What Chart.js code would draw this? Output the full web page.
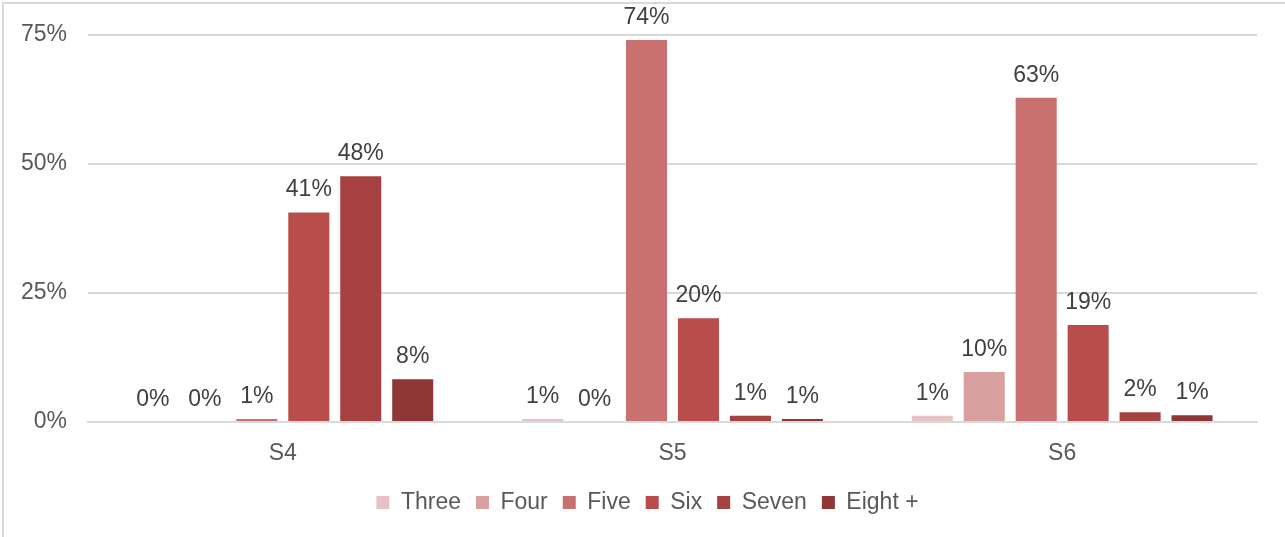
<!DOCTYPE html>
<html>
<head>
<meta charset="utf-8">
<script src="https://cdn.jsdelivr.net/npm/chart.js@4/dist/chart.umd.min.js"></script>
<style>
  html, body { margin: 0; padding: 0; background: #ffffff; }
  #wrap { width: 1285px; height: 537px; position: relative; }
</style>
</head>
<body>
<div id="wrap"><canvas id="chart" width="1285" height="537"></canvas></div>
<script>
// Share of pupils per group size, by year group
const categories = ['S4', 'S5', 'S6'];
const seriesNames = ['Three', 'Four', 'Five', 'Six', 'Seven', 'Eight +'];
const three = [0, 0.006, 0.012];
const four = [0, 0, 0.097];
const five = [0.006, 0.74, 0.628];
const six = [0.406, 0.201, 0.188];
const seven = [0.476, 0.012, 0.019];
const eightPlus = [0.083, 0.006, 0.013];
const yTicks = [0, 0.25, 0.5, 0.75];

const colors = ['#e6c2c3', '#d9a0a0', '#c87170', '#b84d4b', '#a54241', '#8f3636'];
const FONT = '"Liberation Sans", Arial, sans-serif';

const seriesValues = [three, four, five, six, seven, eightPlus];

const pct = v => Math.round(v * 100) + '%';

// value labels above each bar + the outer frame
const labelsPlugin = {
    id: 'barLabels',
    afterLayout(chart) {
        // centre the legend on the whole frame, not just the padded area
        const shift = (chart.width + 10 - chart.legend.right - chart.legend.left) / 2;
        chart.legend.left += shift;
        chart.legend.right += shift;
    },
    beforeDraw(chart) {
        const ctx = chart.ctx;
        ctx.save();
        ctx.strokeStyle = '#d9d9d9';
        ctx.lineWidth = 2;
        ctx.beginPath();
        ctx.moveTo(3, chart.height);
        ctx.lineTo(3, 3);
        ctx.lineTo(chart.width, 3);
        ctx.stroke();
        ctx.restore();
    },
    afterDatasetsDraw(chart) {
        const ctx = chart.ctx;
        ctx.save();
        ctx.font = '23px ' + FONT;
        ctx.fillStyle = '#404040';
        ctx.textAlign = 'center';
        ctx.textBaseline = 'alphabetic';
        chart.data.datasets.forEach((ds, i) => {
            const meta = chart.getDatasetMeta(i);
            meta.data.forEach((bar, j) => {
                ctx.fillText(pct(ds.data[j]), bar.x, bar.y - 16);
            });
        });
        ctx.restore();
    }
};

new Chart(document.getElementById('chart'), {
    type: 'bar',
    data: {
        labels: categories,
        datasets: seriesNames.map((name, i) => ({
            label: name,
            data: seriesValues[i],
            backgroundColor: colors[i],
            borderWidth: 0,
            categoryPercentage: 0.8,
            barPercentage: 0.79
        }))
    },
    options: {
        responsive: false,
        animation: false,
        layout: { padding: { top: 33, right: 28, bottom: 13, left: 0 } },
        plugins: {
            legend: {
                position: 'bottom',
                labels: {
                    font: { family: FONT, size: 23 },
                    color: '#595959',
                    boxWidth: 13,
                    boxHeight: 13,
                    padding: 15
                }
            },
            tooltip: { enabled: false }
        },
        scales: {
            x: {
                grid: { display: false, drawTicks: false },
                border: { display: true, color: '#d9d9d9', width: 2 },
                ticks: {
                    font: { family: FONT, size: 23 },
                    color: '#595959',
                    padding: 18
                },
                afterFit(scale) { scale.height = 54; }
            },
            y: {
                min: 0,
                max: 0.75,
                afterBuildTicks(scale) {
                    scale.ticks = yTicks.map(v => ({ value: v }));
                },
                grid: { color: '#d9d9d9', lineWidth: 2, drawTicks: false },
                border: { display: false },
                ticks: {
                    font: { family: FONT, size: 23 },
                    color: '#595959',
                    padding: 21,
                    callback: v => pct(v)
                },
                afterFit(scale) { scale.width = 88; }
            }
        }
    },
    plugins: [labelsPlugin]
});
</script>
</body>
</html>
